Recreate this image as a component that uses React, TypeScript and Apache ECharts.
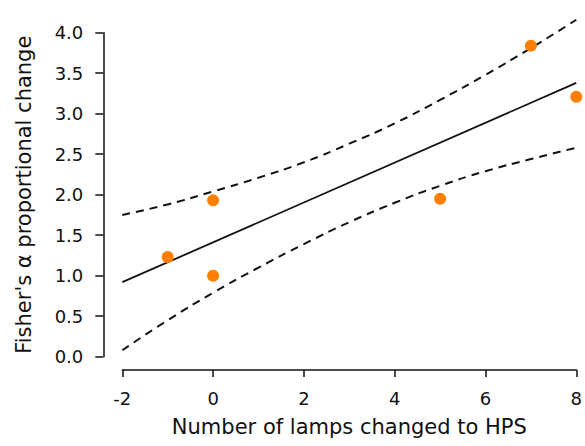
import React, { useEffect, useRef } from "react";
import * as echarts from "echarts";

// Observed points
const lampsChanged: number[] = [-1, 0, 0, 5, 7, 8];
const fisherAlphaChange: number[] = [1.23, 1.93, 1.0, 1.95, 3.84, 3.21];

// Fitted regression line (read at its two ends)
const fitX: number[] = [-2, 8];
const fitY: number[] = [0.92, 3.38];

// Confidence band
const bandX: number[] = [-2, -1, 0, 1, 2, 3, 4, 5, 6, 7, 8];
const bandUpper: number[] = [1.75, 1.88, 2.04, 2.21, 2.4, 2.63, 2.88, 3.17, 3.48, 3.81, 4.16];
const bandLower: number[] = [0.08, 0.45, 0.79, 1.1, 1.39, 1.66, 1.9, 2.11, 2.29, 2.44, 2.58];

const xTitle = "Number of lamps changed to HPS";
const yTitle = "Fisher's \u03b1 proportional change";

const FONT = "DejaVu Sans";

export default function App() {
  const ref = useRef<HTMLDivElement>(null);

  useEffect(() => {
    if (!ref.current) return;
    const chart = echarts.init(ref.current, undefined, { renderer: "svg" });
    const pair = (xs: number[], ys: number[]) => xs.map((x, i) => [x, ys[i]]);
    const axisLine = { show: true, onZero: false, lineStyle: { color: "#111", width: 1.5 } };
    chart.setOption({
      animation: false,
      backgroundColor: "#ffffff",
      grid: { left: 122.3, right: 7.3, top: 32.7, bottom: 89.3, containLabel: false },
      xAxis: {
        type: "value",
        min: -2,
        max: 8,
        interval: 2,
        offset: 13.3,
        axisLine,
        axisTick: { show: true, length: 7, lineStyle: { color: "#111", width: 1.5 } },
        splitLine: { show: false },
        axisLabel: { fontSize: 18, color: "#111", margin: 19, fontFamily: FONT },
        name: xTitle,
        nameLocation: "middle",
        nameGap: 46,
        nameTextStyle: { fontSize: 21, color: "#111", fontFamily: FONT },
      },
      yAxis: {
        type: "value",
        min: 0,
        max: 4,
        interval: 0.5,
        offset: 19,
        axisLine,
        axisTick: { show: true, length: 8, lineStyle: { color: "#111", width: 1.5 } },
        splitLine: { show: false },
        axisLabel: {
          fontSize: 18,
          color: "#111",
          margin: 20,
          fontFamily: FONT,
          formatter: (v: number) => v.toFixed(1),
        },
        name: yTitle,
        nameLocation: "middle",
        nameGap: 69,
        nameTextStyle: { fontSize: 21, color: "#111", fontFamily: FONT },
      },
      series: [
        {
          type: "line",
          data: pair(bandX, bandUpper),
          showSymbol: false,
          smooth: true,
          clip: false,
          lineStyle: { color: "#111", width: 2, type: [8, 6] },
          z: 2,
        },
        {
          type: "line",
          data: pair(bandX, bandLower),
          showSymbol: false,
          smooth: true,
          clip: false,
          lineStyle: { color: "#111", width: 2, type: [8, 6] },
          z: 2,
        },
        {
          type: "line",
          data: pair(fitX, fitY),
          showSymbol: false,
          clip: false,
          lineStyle: { color: "#111", width: 1.8 },
          z: 2,
        },
        {
          type: "scatter",
          data: pair(lampsChanged, fisherAlphaChange),
          symbol: "circle",
          symbolSize: 12,
          clip: false,
          itemStyle: { color: "#FF8000", opacity: 1 },
          z: 3,
        },
      ],
    });
    return () => chart.dispose();
  }, []);

  return (
    <div
      ref={ref}
      style={{ position: "absolute", left: 0, top: 0, width: 585, height: 446 }}
    />
  );
}
